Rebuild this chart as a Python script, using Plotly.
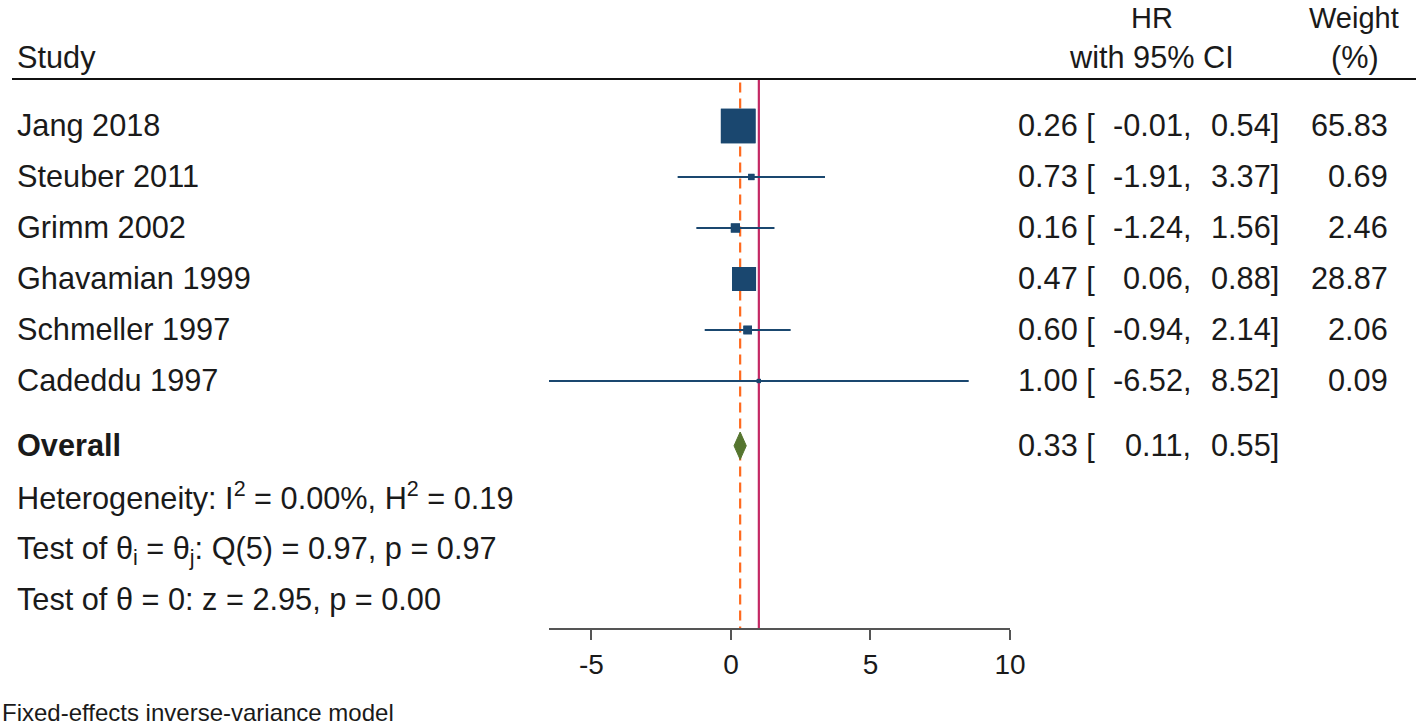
import plotly.graph_objects as go

# ---- data ----
studies = ["Jang 2018", "Steuber 2011", "Grimm 2002", "Ghavamian 1999", "Schmeller 1997", "Cadeddu 1997"]
hr = [0.26, 0.73, 0.16, 0.47, 0.60, 1.00]
ci_lo = [-0.01, -1.91, -1.24, 0.06, -0.94, -6.52]
ci_hi = [0.54, 3.37, 1.56, 0.88, 2.14, 8.52]
weights = [65.83, 0.69, 2.46, 28.87, 2.06, 0.09]
overall_hr = 0.33
overall_lo = 0.11
overall_hi = 0.55
no_effect = 1
x_ticks = [-5, 0, 5, 10]
x_tick_labels = ["-5", "0", "5", "10"]
stats_lines = [
    "Heterogeneity: I<sup>2</sup> = 0.00%, H<sup>2</sup> = 0.19",
    "Test of θ<sub>i</sub> = θ<sub>j</sub>: Q(5) = 0.97, p = 0.97",
    "Test of θ = 0: z = 2.95, p = 0.00",
]
footer = "Fixed-effects inverse-variance model"

# ---- layout helpers (positions, in reference pixels) ----
W, H = 1418, 725
FIG_W = 1434
row_y = list(range(len(studies)))
overall_y = 6.27
stats_y = [7.27, 8.33, 9.29]
y_top, y_bot = -2.47, 9.843
rule_y = -0.92

FONT = "Liberation Sans, Arial, sans-serif"
TXT = "#1a1a1a"
NAVY = "#1a476f"
FS = 30.7
FS_HEAD_TOP = 29
FS_TICK = 28
FS_FOOT = 24

def px(x):
    return x / W

fig = go.Figure()

# reference lines
fig.add_trace(go.Scatter(x=[overall_hr, overall_hr], y=[rule_y + 0.07, y_bot], mode="lines",
                         line=dict(color="#ff6a1f", width=2.2, dash="10px,6px"),
                         hoverinfo="skip", showlegend=False))
fig.add_trace(go.Scatter(x=[no_effect, no_effect], y=[rule_y, y_bot], mode="lines",
                         line=dict(color="#c42864", width=2.2),
                         hoverinfo="skip", showlegend=False))

# study CIs and squares
sizes = [3.9 * (w ** 0.5) + 3 for w in weights]
fig.add_trace(go.Scatter(
    x=hr, y=row_y, mode="markers",
    marker=dict(symbol="square", size=sizes, color=NAVY, opacity=1, line=dict(width=0)),
    error_x=dict(type="data", symmetric=False,
                 array=[h - e for h, e in zip(ci_hi, hr)],
                 arrayminus=[e - l for e, l in zip(hr, ci_lo)],
                 color=NAVY, thickness=2, width=0),
    showlegend=False))
fig.add_trace(go.Scatter(
    x=hr, y=row_y, mode="markers",
    marker=dict(symbol="square", size=sizes, color=NAVY, opacity=1, line=dict(width=0)),
    showlegend=False))

# overall diamond
dh = 0.27
fig.add_trace(go.Scatter(
    x=[overall_lo, overall_hr, overall_hi, overall_hr, overall_lo],
    y=[overall_y, overall_y - dh, overall_y, overall_y + dh, overall_y],
    mode="lines", fill="toself", fillcolor="#55752f",
    line=dict(color="#55752f", width=1), showlegend=False))

ann = []
def text(x, y, s, anchor, yref="y", bold=False, size=FS):
    ann.append(dict(x=px(x), xref="paper", y=y, yref=yref, text=("<b>%s</b>" % s) if bold else s,
                    xanchor=anchor, yanchor="middle", showarrow=False,
                    font=dict(family=FONT, size=size, color=TXT)))

def ypaper(p):
    return 1 - p / H
text(15, ypaper(57), "Study", "left", yref="paper")
text(1152, ypaper(18), "HR", "center", yref="paper", size=FS_HEAD_TOP)
text(1151, ypaper(57), "with 95% CI", "center", yref="paper")
text(1354, ypaper(18), "Weight", "center", yref="paper", size=FS_HEAD_TOP)
text(1355, ypaper(57), "(%)", "center", yref="paper")

for i, s in enumerate(studies):
    y = row_y[i]
    text(15, y, s, "left")
    text(1097, y, "%.2f [" % hr[i], "right")
    text(1193, y, "%.2f," % ci_lo[i], "right")
    text(1281, y, "%.2f]" % ci_hi[i], "right")
    text(1390, y, "%.2f" % weights[i], "right")

text(15, overall_y, "Overall", "left", bold=True)
text(1097, overall_y, "%.2f [" % overall_hr, "right")
text(1193, overall_y, "%.2f," % overall_lo, "right")
text(1281, overall_y, "%.2f]" % overall_hi, "right")

for s, y in zip(stats_lines, stats_y):
    text(15, y, s, "left")

text(0, ypaper(712), footer, "left", yref="paper", size=FS_FOOT)

fig.update_layout(
    width=FIG_W, height=H,
    margin=dict(l=0, r=0, t=0, b=0),
    paper_bgcolor="white", plot_bgcolor="white",
    annotations=ann,
    shapes=[dict(type="line", xref="paper", yref="y", x0=px(12), x1=px(1416),
                 y0=rule_y, y1=rule_y, line=dict(color="#111111", width=2))],
    xaxis=dict(domain=[px(549), px(1010)], range=[-6.52, 10],
               tickmode="array", tickvals=x_ticks, ticktext=x_tick_labels,
               ticks="outside", ticklen=10, tickwidth=2, tickcolor="#555555",
               showline=True, linecolor="#555555", linewidth=2,
               showgrid=False, zeroline=False,
               tickfont=dict(family=FONT, size=FS_TICK, color=TXT)),
    yaxis=dict(domain=[(H - 628) / H, 1], range=[y_bot, y_top], visible=False,
               showgrid=False, zeroline=False),
    font=dict(family=FONT, size=FS, color=TXT),
)

fix_page = ("}); document.documentElement.style.overflow='hidden';"
            "document.body.style.margin='0px';document.body.style.overflow='hidden'; (function(){")
fig.write_html("out.html", config={"displayModeBar": False}, post_script=fix_page)
